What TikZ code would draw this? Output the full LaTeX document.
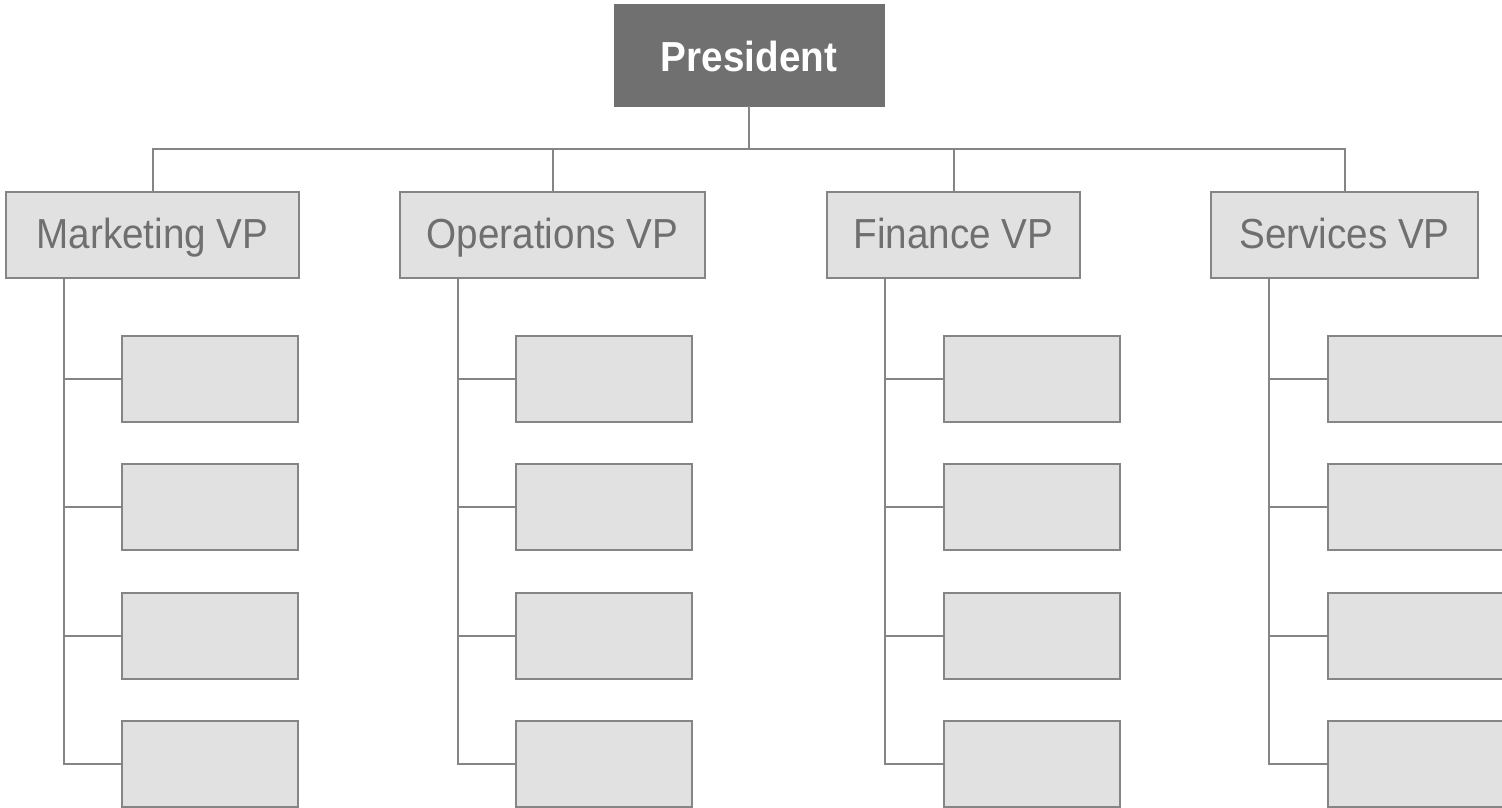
\documentclass[tikz,border=0pt]{standalone}
\usepackage{fontspec}
\setmainfont{Liberation Sans}[FakeStretch=0.92]
\definecolor{linegray}{HTML}{858585}
\definecolor{boxfill}{HTML}{E1E1E1}
\definecolor{presfill}{HTML}{707070}
\definecolor{txtgray}{HTML}{6F6F6F}
\tikzset{
  conn/.style={draw=linegray, line width=2pt},
  basebox/.style={draw=linegray, line width=2pt, fill=boxfill, inner sep=0pt, outer sep=0pt, minimum height=86pt},
  pres/.style={fill=presfill, draw=presfill, line width=1pt, text=white, inner sep=0pt, outer sep=0pt,
    minimum width=270pt, minimum height=101pt, text height=33pt, text depth=0pt,
    font=\fontsize{42}{50}\selectfont\bfseries},
  vp/.style={basebox, text=txtgray, text height=26pt, text depth=0pt, font=\fontsize{42}{50}\selectfont},
  sub/.style={basebox, minimum width=176pt},
}
\begin{document}
\begin{tikzpicture}[x=1pt,y=-1pt]
\useasboundingbox (0,0) rectangle (1502,808);
\clip (0,0) rectangle (1502,808);
\node[pres] (p) at (749,55.5) {President};
\node[vp, minimum width=293pt] (mk) at (152.5,235) {Marketing VP};
\node[vp, minimum width=305pt] (op) at (552.5,235) {Operations VP};
\node[vp, minimum width=253pt] (fi) at (953.5,235) {Finance VP};
\node[vp, minimum width=267pt] (se) at (1344.5,235) {Services VP};
\coordinate (bus) at (749,149);
\draw[conn] (p.south) -- (bus);
\draw[conn] (mk.north) -- (mk.north |- bus) -- (se.north |- bus) -- (se.north);
\draw[conn] (op.north) -- (op.north |- bus);
\draw[conn] (fi.north) -- (fi.north |- bus);
\foreach \g/\cx in {mk/210, op/603.5, fi/1031.5, se/1415.5}{
  \foreach \i/\cy in {1/379, 2/507, 3/636, 4/763.5}{
    \node[sub] (\g\i) at (\cx,\cy) {};
  }
  \coordinate (\g s) at ([xshift=58pt]\g.south west);
  \draw[conn] (\g s) |- (\g4.west);
  \foreach \i in {1,2,3}{
    \draw[conn] (\g\i.west) -- (\g s |- \g\i.west);
  }
}
\end{tikzpicture}
\end{document}
